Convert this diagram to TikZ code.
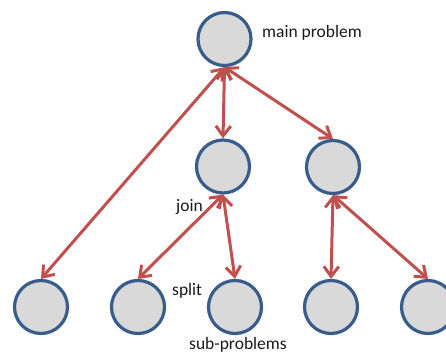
\documentclass[tikz,border=0pt]{standalone}
\usepackage{fontspec}
\setmainfont{Carlito}
\usepackage{xcolor}
\usetikzlibrary{arrows.meta}

\definecolor{ringblue}{RGB}{56,93,138}
\definecolor{discgray}{RGB}{217,217,217}
\definecolor{linkred}{RGB}{192,80,77}

\tikzset{
    prob/.style={circle, draw=ringblue, fill=discgray, line width=3.2pt, minimum size=53pt, inner sep=0pt},
    link/.style={draw=linkred, line width=3pt, {Straight Barb[length=10pt,width=15pt]}-{Straight Barb[length=10pt,width=15pt]}},
    lbl/.style={font=\fontsize{17.5}{20}\selectfont, text=black!90, inner sep=0pt}
}

\begin{document}
\begin{tikzpicture}[x=1pt, y=1pt]
    \useasboundingbox (0,0) rectangle (446,354);

    % Main problem and the two levels below it
    \node[prob] (top) at (224.5,315) {};
    \node[prob] (midl) at (223,187.5) {};
    \node[prob] (midr) at (333,187) {};
    \node[prob] (bot1) at (41,47) {};
    \node[prob] (bot2) at (138,47) {};
    \node[prob] (bot3) at (235,47) {};
    \node[prob] (bot4) at (331,47) {};
    \node[prob] (bot5) at (428,47) {};

    % Split / join links
    \draw[link] (top.south) -- (bot1.north);
    \draw[link] (top.south) -- (midl.north);
    \draw[link] (top.south) -- (midr.north);
    \draw[link] (midl.south) -- (bot2.north);
    \draw[link] (midl.south) -- (bot3.north);
    \draw[link] (midr.south) -- (bot4.north);
    \draw[link] (midr.south) -- (bot5.north);

    % Labels
    \node[lbl, anchor=base west] (lmain) at (262,316) {main problem};
    \node[lbl, anchor=base east] (ljoin) at (203,143) {join};
    \node[lbl, anchor=base west] (lsplit) at (172,59) {split};
    \node[lbl, anchor=base] (lsub) at (238,4.5) {sub-problems};
\end{tikzpicture}
\end{document}
